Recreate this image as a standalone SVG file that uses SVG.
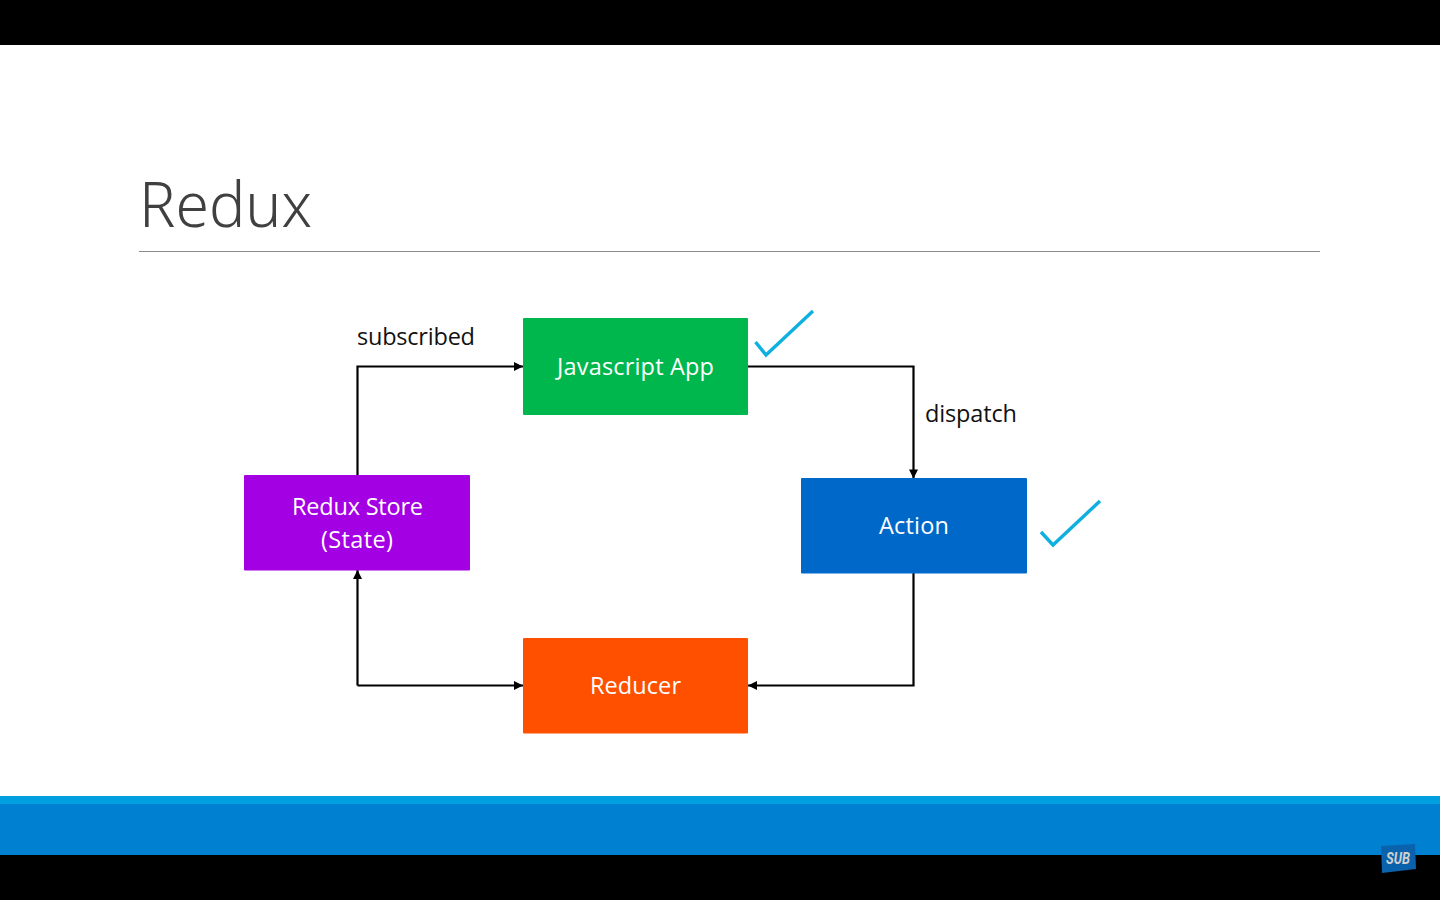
<svg xmlns="http://www.w3.org/2000/svg" width="1440" height="900" viewBox="0 0 1440 900">
<style>
.t{font-family:"Open Sans","Noto Sans","Liberation Sans",sans-serif;font-size:23.500px;text-anchor:middle;fill:#fff}
.l{font-family:"Open Sans","Noto Sans","Liberation Sans",sans-serif;font-size:23.500px;fill:#111}
.c{fill:none;stroke:#000;stroke-width:2.200}
.k{fill:none;stroke:#0fb0e0;stroke-width:3.400}
</style>
<defs><marker id="a" markerUnits="userSpaceOnUse" markerWidth="11" markerHeight="12" refX="10" refY="6" orient="auto"><path d="M1 1.500L10 6L1 10.500Z" fill="#000"/></marker></defs>
<rect width="1440" height="900" fill="#fff"/>
<rect width="1440" height="45" fill="#000"/>
<rect y="796" width="1440" height="9" fill="#00a0e0"/>
<rect y="804" width="1440" height="51" fill="#0080d0"/>
<rect y="855" width="1440" height="45" fill="#000"/>
<g id="sub-badge"><path d="M1381 846L1415 844L1416 869L1382 873Z" fill="#0a62ad"/><text x="1398" y="864" font-family="Roboto,Liberation Sans,sans-serif" font-size="16" font-weight="700" font-style="italic" text-anchor="middle" fill="#d0d0d0" textLength="24" lengthAdjust="spacingAndGlyphs">SUB</text></g>
<g id="title"><text x="139" y="227" font-family="Noto Sans,Open Sans,sans-serif" font-size="63" font-weight="300" fill="#404040" textLength="173" lengthAdjust="spacingAndGlyphs">Redux</text><rect x="139" y="251" width="1181" height="1" fill="#8a8a8a"/></g>
<g id="connectors">
<path class="c" marker-end="url(#a)" d="M357.500 475V366.500H523"/>
<path class="c" marker-end="url(#a)" d="M748 366.500H913.500V478.500"/>
<path class="c" marker-end="url(#a)" d="M913.500 573V685.500H748"/>
<path class="c" marker-end="url(#a)" d="M357.500 685.500H523"/>
<path class="c" marker-end="url(#a)" d="M357.500 685.500V570"/>
</g>
<g id="javascript-app"><rect x="523" y="318" width="225" height="97" rx="1" fill="#00b74d"/><text class="t" x="635.500" y="375" textLength="157">Javascript App</text></g>
<g id="redux-store"><rect x="244" y="475" width="226" height="95.500" rx="1" fill="#a400e4"/><text class="t" x="357.500" y="515" textLength="131">Redux Store</text><text class="t" x="357" y="548" textLength="72">(State)</text></g>
<g id="action"><rect x="801" y="478" width="226" height="95.500" rx="1" fill="#0068c8"/><text class="t" x="914" y="534" textLength="70">Action</text></g>
<g id="reducer"><rect x="523" y="638" width="225" height="95.500" rx="1" fill="#ff5000"/><text class="t" x="635.500" y="694" textLength="91">Reducer</text></g>
<text class="l" x="357" y="345" textLength="118">subscribed</text>
<text class="l" x="925" y="422" textLength="92">dispatch</text>
<path class="k" d="M755.500 342L766 355L813 311"/>
<path class="k" d="M1041 532L1053 545L1100 501"/>
</svg>
